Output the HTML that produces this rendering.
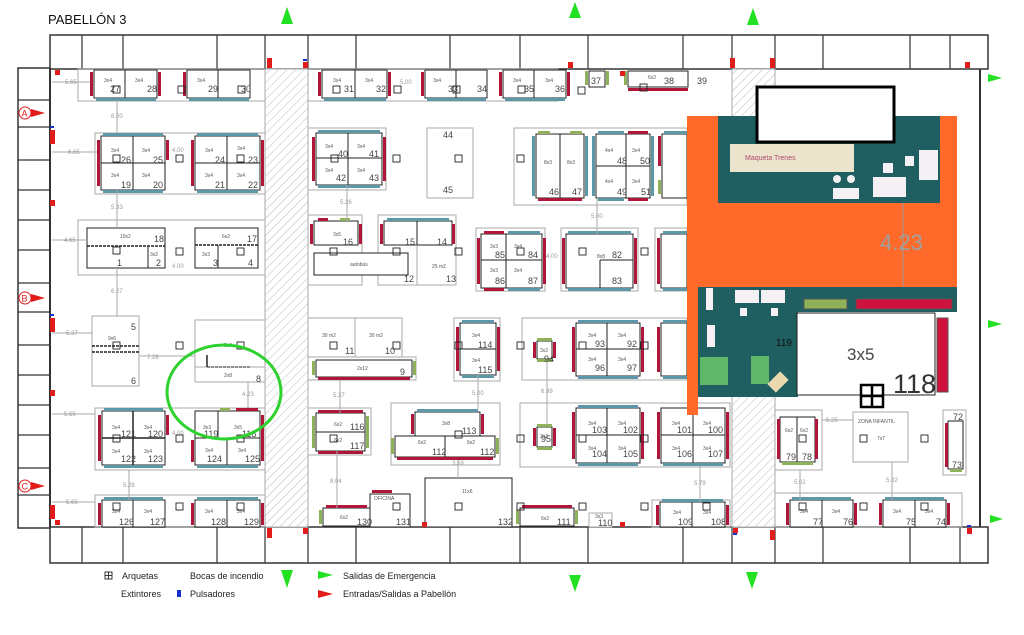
<!DOCTYPE html>
<html><head><meta charset="utf-8">
<style>
html,body{margin:0;padding:0;background:#fff;}
svg{display:block;font-family:"Liberation Sans",sans-serif;}
.st{fill:#fff;stroke:#222;stroke-width:1}
.gp{fill:none;stroke:#aaa;stroke-width:1}
.w{fill:none;stroke:#333;stroke-width:1.5}
.r{fill:#b0163a}
.b{fill:#5d97a8}
.g{fill:#8fb15a}
.t{font-size:5px;fill:#555}
.n{font-size:9px;fill:#444}
.d{font-size:6px;fill:#999}
.dl{stroke:#aaa;stroke-width:1}
</style></head><body>
<svg width="1024" height="635" viewBox="0 0 1024 635" xmlns="http://www.w3.org/2000/svg">
<defs>
<pattern id="h" width="6" height="6" patternUnits="userSpaceOnUse" patternTransform="rotate(45)">
<rect width="6" height="6" fill="#fff"/><line x1="0" y1="0" x2="0" y2="6" stroke="#bbb" stroke-width="1"/>
</pattern>
</defs>
<text x="48" y="24" font-size="13" fill="#111">PABELLÓN 3</text>

<!-- outer walls -->
<rect x="50" y="35" width="938" height="34" class="w"/>
<rect x="50" y="527" width="938" height="36" class="w"/>
<rect x="18" y="68" width="32" height="460" class="w"/>
<line x1="980" y1="69" x2="980" y2="527" stroke="#333" stroke-width="2"/>
<line x1="50" y1="69" x2="50" y2="527" stroke="#333" stroke-width="2"/>
<!-- room dividers top -->
<g stroke="#333" stroke-width="1.2">
<line x1="82" y1="35" x2="82" y2="69"/><line x1="123" y1="35" x2="123" y2="69"/><line x1="217" y1="35" x2="217" y2="69"/><line x1="265" y1="35" x2="265" y2="69"/><line x1="308" y1="35" x2="308" y2="69"/><line x1="356" y1="35" x2="356" y2="69"/><line x1="450" y1="35" x2="450" y2="69"/><line x1="520" y1="35" x2="520" y2="69"/><line x1="588" y1="35" x2="588" y2="69"/><line x1="683" y1="35" x2="683" y2="69"/><line x1="732" y1="35" x2="732" y2="69"/><line x1="775" y1="35" x2="775" y2="69"/><line x1="823" y1="35" x2="823" y2="69"/><line x1="910" y1="35" x2="910" y2="69"/><line x1="950" y1="35" x2="950" y2="69"/>
<line x1="82" y1="527" x2="82" y2="563"/><line x1="123" y1="527" x2="123" y2="563"/><line x1="217" y1="527" x2="217" y2="563"/><line x1="265" y1="527" x2="265" y2="563"/><line x1="308" y1="527" x2="308" y2="563"/><line x1="356" y1="527" x2="356" y2="563"/><line x1="450" y1="527" x2="450" y2="563"/><line x1="520" y1="527" x2="520" y2="563"/><line x1="588" y1="527" x2="588" y2="563"/><line x1="683" y1="527" x2="683" y2="563"/><line x1="732" y1="527" x2="732" y2="563"/><line x1="775" y1="527" x2="775" y2="563"/><line x1="823" y1="527" x2="823" y2="563"/><line x1="910" y1="527" x2="910" y2="563"/><line x1="960" y1="527" x2="960" y2="563"/>
<line x1="18" y1="100" x2="50" y2="100"/><line x1="18" y1="127" x2="50" y2="127"/><line x1="18" y1="160" x2="50" y2="160"/><line x1="18" y1="190" x2="50" y2="190"/><line x1="18" y1="220" x2="50" y2="220"/><line x1="18" y1="250" x2="50" y2="250"/><line x1="18" y1="283" x2="50" y2="283"/><line x1="18" y1="312" x2="50" y2="312"/><line x1="18" y1="345" x2="50" y2="345"/><line x1="18" y1="375" x2="50" y2="375"/><line x1="18" y1="405" x2="50" y2="405"/><line x1="18" y1="435" x2="50" y2="435"/><line x1="18" y1="468" x2="50" y2="468"/><line x1="18" y1="495" x2="50" y2="495"/>
</g>
<!-- hatched corridors -->
<rect x="265" y="69" width="43" height="458" fill="url(#h)" stroke="#aaa"/>
<rect x="732" y="69" width="43" height="458" fill="url(#h)" stroke="#aaa"/>

<!-- group outlines -->
<g class="gp">
<rect x="78" y="69" width="187" height="32"/><rect x="308" y="69" width="250" height="32"/>
<rect x="95" y="133" width="170" height="61"/><rect x="308" y="128" width="78" height="62"/><rect x="427" y="128" width="46" height="70"/><rect x="514" y="128" width="173" height="77"/>
<rect x="78" y="220" width="187" height="55"/><rect x="308" y="215" width="54" height="70"/><rect x="378" y="215" width="78" height="70"/><rect x="476" y="228" width="69" height="63"/><rect x="561" y="228" width="77" height="63"/><rect x="655" y="228" width="32" height="63"/>
<rect x="92" y="316" width="47" height="70"/><rect x="195" y="320" width="70" height="62"/><rect x="308" y="318" width="94" height="39"/><rect x="308" y="357" width="108" height="23"/><rect x="454" y="318" width="46" height="63"/><rect x="522" y="318" width="165" height="62"/>
<rect x="95" y="408" width="170" height="62"/><rect x="308" y="408" width="63" height="47"/><rect x="391" y="403" width="109" height="62"/><rect x="520" y="403" width="210" height="64"/><rect x="775" y="410" width="47" height="60"/><rect x="943" y="410" width="23" height="65"/>
<rect x="95" y="495" width="170" height="32"/><rect x="775" y="493" width="187" height="34"/><rect x="652" y="500" width="78" height="27"/>
</g>

<!-- stands -->
<g>
<!-- top row -->
<rect class="st" x="94" y="70" width="63" height="28"/><line x1="125" y1="70" x2="125" y2="98" stroke="#222"/><rect class="r" x="90" y="72" width="3" height="24"/><rect class="r" x="158" y="72" width="3" height="24"/><rect class="b" x="96" y="98" width="60" height="3"/>
<rect class="st" x="187" y="70" width="63" height="28"/><line x1="218" y1="70" x2="218" y2="98" stroke="#222"/><rect class="r" x="183" y="72" width="3" height="24"/><rect class="b" x="189" y="98" width="60" height="3"/>
<rect class="st" x="322" y="70" width="65" height="28"/><line x1="355" y1="70" x2="355" y2="98" stroke="#222"/><rect class="r" x="318" y="72" width="3" height="24"/><rect class="r" x="388" y="72" width="3" height="24"/><rect class="b" x="324" y="98" width="62" height="3"/>
<rect class="st" x="425" y="70" width="62" height="28"/><line x1="456" y1="70" x2="456" y2="98" stroke="#222"/><rect class="r" x="421" y="72" width="3" height="24"/><rect class="b" x="427" y="98" width="59" height="3"/>
<rect class="st" x="503" y="70" width="63" height="28"/><line x1="534" y1="70" x2="534" y2="98" stroke="#222"/><rect class="r" x="499" y="72" width="3" height="24"/><rect class="r" x="567" y="72" width="3" height="24"/><rect class="b" x="505" y="98" width="60" height="3"/>
<rect class="st" x="589" y="71" width="16" height="16"/><rect class="g" x="585" y="71" width="3" height="14"/><rect class="g" x="606" y="71" width="3" height="14"/>
<rect class="st" x="628" y="71" width="60" height="16"/><rect class="r" x="628" y="88" width="60" height="3"/><rect class="g" x="624" y="71" width="3" height="14"/>
<!-- row 2 -->
<rect class="st" x="101" y="136" width="64" height="54"/><line x1="133" y1="136" x2="133" y2="190" stroke="#222"/><line x1="101" y1="163" x2="165" y2="163" stroke="#222"/><rect class="r" x="97" y="140" width="3" height="46"/><rect class="r" x="166" y="140" width="3" height="20"/><rect class="b" x="103" y="133" width="60" height="3"/><rect class="b" x="103" y="190" width="60" height="3"/>
<rect class="st" x="195" y="136" width="65" height="54"/><line x1="227" y1="136" x2="227" y2="190" stroke="#222"/><line x1="195" y1="163" x2="260" y2="163" stroke="#222"/><rect class="r" x="191" y="140" width="3" height="46"/><rect class="r" x="261" y="140" width="3" height="46"/><rect class="b" x="197" y="133" width="61" height="3"/><rect class="b" x="197" y="190" width="61" height="3"/>
<rect class="st" x="316" y="133" width="66" height="52"/><line x1="348" y1="133" x2="348" y2="185" stroke="#222"/><line x1="316" y1="158" x2="382" y2="158" stroke="#222"/><rect class="r" x="312" y="137" width="3" height="44"/><rect class="r" x="383" y="137" width="3" height="44"/><rect class="b" x="318" y="130" width="62" height="3"/><rect class="b" x="318" y="185" width="62" height="3"/>
<rect class="st" x="536" y="134" width="48" height="64"/><line x1="560" y1="134" x2="560" y2="198" stroke="#222"/><rect class="b" x="532" y="136" width="3" height="60"/><rect class="b" x="585" y="136" width="3" height="60"/><rect class="r" x="538" y="198" width="44" height="3"/><rect class="g" x="538" y="131" width="12" height="3"/><rect class="g" x="570" y="131" width="12" height="3"/>
<rect class="st" x="596" y="134" width="54" height="64"/><line x1="626" y1="134" x2="626" y2="198" stroke="#222"/><line x1="596" y1="166" x2="650" y2="166" stroke="#222"/><rect class="b" x="592" y="136" width="3" height="60"/><rect class="b" x="651" y="136" width="3" height="60"/><rect class="b" x="598" y="131" width="26" height="3"/><rect class="r" x="628" y="131" width="20" height="3"/><rect class="b" x="598" y="198" width="26" height="3"/><rect class="r" x="628" y="198" width="20" height="3"/>
<rect class="st" x="662" y="134" width="25" height="64"/><rect class="r" x="658" y="136" width="3" height="30"/><rect class="g" x="658" y="180" width="3" height="14"/><rect class="b" x="664" y="131" width="23" height="3"/>
<!-- row 3 -->
<rect class="st" x="87" y="228" width="78" height="40"/><line x1="87" y1="246" x2="165" y2="246" stroke="#222" stroke-dasharray="3,1" stroke-width="1.5"/><line x1="148" y1="246" x2="148" y2="268" stroke="#222"/>
<rect class="st" x="195" y="228" width="63" height="40"/><line x1="195" y1="245" x2="258" y2="245" stroke="#222" stroke-dasharray="3,1" stroke-width="1.5"/><line x1="218" y1="245" x2="218" y2="268" stroke="#222"/>
<rect class="st" x="314" y="221" width="44" height="24"/><rect class="r" x="318" y="218" width="10" height="3"/><rect class="g" x="340" y="218" width="10" height="3"/><rect class="r" x="310" y="224" width="3" height="20"/><rect class="r" x="359" y="224" width="3" height="20"/>
<rect class="st" x="384" y="221" width="68" height="24"/><line x1="417" y1="221" x2="417" y2="245" stroke="#222"/><rect class="b" x="387" y="218" width="62" height="3"/><rect class="r" x="380" y="224" width="3" height="20"/><rect class="r" x="452" y="224" width="3" height="20"/>
<rect class="st" x="314" y="253" width="94" height="22"/><line x1="417" y1="245" x2="417" y2="285" stroke="#aaa"/>
<rect class="st" x="481" y="234" width="61" height="54"/><line x1="506" y1="234" x2="506" y2="288" stroke="#222"/><line x1="481" y1="260" x2="542" y2="260" stroke="#222"/><rect class="r" x="477" y="238" width="3" height="46"/><rect class="r" x="543" y="238" width="3" height="46"/><rect class="r" x="484" y="231" width="20" height="3"/><rect class="b" x="508" y="231" width="32" height="3"/><rect class="r" x="484" y="288" width="20" height="3"/><rect class="b" x="508" y="288" width="32" height="3"/>
<rect class="st" x="566" y="234" width="67" height="54"/><line x1="600" y1="260" x2="600" y2="288" stroke="#222"/><line x1="600" y1="260" x2="633" y2="260" stroke="#222"/><rect class="r" x="562" y="238" width="3" height="46"/><rect class="r" x="634" y="238" width="3" height="46"/><rect class="b" x="568" y="231" width="63" height="3"/><rect class="b" x="568" y="288" width="63" height="3"/>
<rect class="st" x="661" y="234" width="26" height="54"/><rect class="r" x="657" y="238" width="3" height="46"/><rect class="b" x="663" y="231" width="24" height="3"/><rect class="b" x="663" y="288" width="24" height="3"/>
<!-- row 4 -->
<line x1="92" y1="346" x2="139" y2="346" stroke="#222" stroke-dasharray="3,1" stroke-width="1.5"/><line x1="92" y1="352" x2="139" y2="352" stroke="#222" stroke-dasharray="3,1" stroke-width="1.5"/>
<line x1="195" y1="367" x2="265" y2="367" stroke="#aaa"/><line x1="207" y1="355" x2="207" y2="367" stroke="#222" stroke-width="1.5"/><line x1="207" y1="367" x2="250" y2="367" stroke="#222" stroke-dasharray="3,1"/>
<line x1="355" y1="318" x2="355" y2="357" stroke="#aaa"/>
<rect class="st" x="316" y="360" width="96" height="17"/><rect class="g" x="312" y="361" width="3" height="14"/><rect class="g" x="413" y="361" width="3" height="14"/><rect class="r" x="318" y="377" width="92" height="3"/>
<rect class="st" x="460" y="323" width="36" height="52"/><line x1="460" y1="349" x2="496" y2="349" stroke="#222"/><rect class="r" x="456" y="327" width="3" height="44"/><rect class="r" x="497" y="327" width="3" height="44"/><rect class="b" x="462" y="320" width="32" height="3"/><rect class="b" x="462" y="375" width="32" height="3"/>
<rect class="st" x="537" y="341" width="15" height="18"/><rect class="g" x="537" y="338" width="15" height="3"/><rect class="g" x="537" y="359" width="15" height="3"/><rect class="r" x="533" y="342" width="3" height="16"/><rect class="r" x="553" y="342" width="3" height="16"/>
<rect class="st" x="576" y="323" width="64" height="53"/><line x1="607" y1="323" x2="607" y2="376" stroke="#222"/><line x1="576" y1="349" x2="640" y2="349" stroke="#222"/><rect class="r" x="572" y="327" width="3" height="45"/><rect class="r" x="641" y="327" width="3" height="45"/><rect class="b" x="578" y="320" width="60" height="3"/><rect class="b" x="578" y="376" width="60" height="3"/>
<rect class="st" x="661" y="323" width="26" height="53"/><rect class="r" x="657" y="327" width="3" height="45"/><rect class="b" x="663" y="320" width="24" height="3"/><rect class="b" x="663" y="376" width="24" height="3"/>
<!-- row 5 -->
<rect class="st" x="102" y="411" width="63" height="54"/><line x1="133" y1="411" x2="133" y2="465" stroke="#222" stroke-width="1.5"/><line x1="102" y1="438" x2="165" y2="438" stroke="#222" stroke-width="1.5"/><rect class="r" x="98" y="415" width="3" height="46"/><rect class="r" x="166" y="415" width="3" height="20"/><rect class="b" x="104" y="408" width="59" height="3"/><rect class="b" x="104" y="465" width="59" height="3"/>
<rect class="st" x="195" y="411" width="65" height="54"/><line x1="227" y1="438" x2="227" y2="465" stroke="#222"/><line x1="218" y1="411" x2="218" y2="438" stroke="#222"/><line x1="195" y1="438" x2="260" y2="438" stroke="#222"/><rect class="r" x="191" y="440" width="3" height="22"/><rect class="r" x="261" y="415" width="3" height="46"/><rect class="g" x="220" y="408" width="10" height="3"/><rect class="r" x="236" y="408" width="22" height="3"/><rect class="b" x="197" y="465" width="61" height="3"/>
<rect class="st" x="316" y="413" width="49" height="38"/><line x1="316" y1="432" x2="365" y2="432" stroke="#222"/><rect class="r" x="318" y="410" width="45" height="3"/><rect class="r" x="318" y="451" width="45" height="3"/><rect class="g" x="312" y="416" width="3" height="32"/><rect class="g" x="366" y="416" width="3" height="32"/>
<rect class="st" x="415" y="412" width="65" height="24"/><rect class="b" x="417" y="409" width="61" height="3"/><rect class="r" x="411" y="414" width="3" height="20"/><rect class="r" x="481" y="414" width="3" height="20"/>
<rect class="st" x="395" y="436" width="100" height="21"/><line x1="445" y1="436" x2="445" y2="457" stroke="#222"/><rect class="r" x="397" y="457" width="96" height="3"/><rect class="g" x="391" y="438" width="3" height="16"/><rect class="g" x="496" y="438" width="3" height="16"/>
<rect class="st" x="537" y="427" width="15" height="20"/><rect class="g" x="537" y="424" width="15" height="3"/><rect class="g" x="537" y="447" width="15" height="3"/><rect class="r" x="533" y="428" width="3" height="18"/><rect class="r" x="553" y="428" width="3" height="18"/>
<rect class="st" x="576" y="408" width="64" height="55"/><line x1="607" y1="408" x2="607" y2="463" stroke="#222"/><line x1="576" y1="435" x2="640" y2="435" stroke="#222"/><rect class="r" x="572" y="412" width="3" height="47"/><rect class="r" x="641" y="412" width="3" height="47"/><rect class="b" x="578" y="405" width="60" height="3"/><rect class="b" x="578" y="463" width="60" height="3"/>
<rect class="st" x="661" y="408" width="64" height="55"/><line x1="693" y1="408" x2="693" y2="463" stroke="#222"/><line x1="661" y1="435" x2="725" y2="435" stroke="#222"/><rect class="r" x="657" y="412" width="3" height="47"/><rect class="r" x="726" y="412" width="3" height="47"/><rect class="b" x="663" y="463" width="60" height="3"/>
<rect class="st" x="780" y="417" width="35" height="45"/><line x1="797" y1="417" x2="797" y2="462" stroke="#222"/><rect class="r" x="777" y="419" width="3" height="40"/><rect class="r" x="815" y="419" width="3" height="40"/><rect class="g" x="782" y="462" width="31" height="3"/>
<rect x="853" y="412" width="55" height="50" fill="#fff" stroke="#aaa"/>
<rect class="st" x="948" y="421" width="15" height="48"/><rect class="r" x="945" y="423" width="3" height="44"/><rect class="g" x="950" y="469" width="12" height="3"/>
<!-- row 6 -->
<rect class="st" x="102" y="500" width="63" height="27"/><line x1="133" y1="500" x2="133" y2="527" stroke="#222"/><rect class="r" x="98" y="503" width="3" height="22"/><rect class="b" x="104" y="497" width="59" height="3"/>
<rect class="st" x="195" y="500" width="65" height="27"/><line x1="227" y1="500" x2="227" y2="527" stroke="#222"/><rect class="r" x="191" y="503" width="3" height="22"/><rect class="r" x="261" y="503" width="3" height="22"/><rect class="b" x="197" y="497" width="61" height="3"/>
<rect class="st" x="323" y="508" width="47" height="18"/><rect class="r" x="326" y="505" width="41" height="3"/><rect class="g" x="319" y="510" width="3" height="14"/>
<rect class="st" x="370" y="494" width="40" height="33"/><rect class="r" x="372" y="490" width="20" height="3"/>
<rect class="st" x="425" y="478" width="87" height="49"/>
<rect class="st" x="520" y="508" width="54" height="18"/><rect class="r" x="522" y="505" width="50" height="3"/><rect class="g" x="516" y="510" width="3" height="14"/><rect class="g" x="575" y="510" width="3" height="14"/>
<rect x="589" y="513" width="23" height="14" fill="#fff" stroke="#aaa"/>
<rect class="st" x="660" y="502" width="65" height="25"/><line x1="692" y1="502" x2="692" y2="527" stroke="#222"/><rect class="r" x="656" y="505" width="3" height="20"/><rect class="r" x="726" y="505" width="3" height="20"/><rect class="b" x="662" y="499" width="61" height="3"/>
<rect class="st" x="790" y="500" width="63" height="27"/><line x1="822" y1="500" x2="822" y2="527" stroke="#222"/><rect class="r" x="786" y="503" width="3" height="22"/><rect class="r" x="854" y="503" width="3" height="22"/><rect class="b" x="792" y="497" width="59" height="3"/>
<rect class="st" x="883" y="500" width="63" height="27"/><line x1="915" y1="500" x2="915" y2="527" stroke="#222"/><rect class="r" x="879" y="503" width="3" height="22"/><rect class="r" x="947" y="503" width="3" height="22"/><rect class="b" x="885" y="497" width="59" height="3"/>
</g>

<!-- dimension lines -->
<g class="dl">
<line x1="117" y1="100" x2="117" y2="133"/><line x1="117" y1="190" x2="117" y2="228"/><line x1="117" y1="268" x2="117" y2="316"/><line x1="347" y1="185" x2="347" y2="221"/><line x1="340" y1="380" x2="340" y2="413"/><line x1="337" y1="451" x2="337" y2="508"/><line x1="478" y1="375" x2="478" y2="409"/><line x1="458" y1="460" x2="458" y2="478"/><line x1="597" y1="198" x2="597" y2="234"/><line x1="547" y1="362" x2="547" y2="425"/><line x1="248" y1="382" x2="248" y2="408"/><line x1="129" y1="470" x2="129" y2="500"/><line x1="700" y1="466" x2="700" y2="502"/><line x1="800" y1="470" x2="800" y2="500"/><line x1="892" y1="462" x2="892" y2="500"/>
<line x1="140" y1="356" x2="195" y2="356"/><line x1="52" y1="82" x2="90" y2="82"/><line x1="52" y1="152" x2="97" y2="152"/><line x1="52" y1="240" x2="87" y2="240"/><line x1="52" y1="333" x2="92" y2="333"/><line x1="52" y1="414" x2="95" y2="414"/><line x1="52" y1="502" x2="95" y2="502"/><line x1="822" y1="420" x2="853" y2="420"/>
</g>
<g class="d">
<text x="111" y="118">6.00</text><text x="111" y="209">5.33</text><text x="111" y="293">6.27</text><text x="340" y="204">5.26</text><text x="333" y="397">5.27</text><text x="330" y="483">8.04</text><text x="472" y="395">5.00</text><text x="452" y="465">3.59</text><text x="591" y="218">5.00</text><text x="541" y="393">6.99</text><text x="242" y="396">4.23</text><text x="123" y="487">5.28</text><text x="694" y="485">5.79</text><text x="794" y="484">5.02</text><text x="886" y="482">5.02</text>
<text x="147" y="359">7.28</text><text x="65" y="84">5.65</text><text x="68" y="154">6.65</text><text x="64" y="242">4.65</text><text x="66" y="335">5.37</text><text x="64" y="416">5.65</text><text x="66" y="504">5.65</text><text x="826" y="422">5.25</text>
<text x="172" y="152">4.00</text><text x="172" y="268">4.00</text><text x="400" y="84">5.00</text><text x="546" y="258">4.00</text><text x="172" y="435">4.00</text>
</g>

<!-- small labels -->
<g class="t">
<text x="104" y="82">3x4</text><text x="135" y="82">3x4</text><text x="197" y="82">3x4</text><text x="333" y="82">3x4</text><text x="365" y="82">3x4</text><text x="433" y="82">3x4</text><text x="513" y="82">3x4</text><text x="545" y="82">3x4</text><text x="648" y="79">6x2</text>
<text x="111" y="152">3x4</text><text x="142" y="152">3x4</text><text x="111" y="177">3x4</text><text x="142" y="177">3x4</text><text x="205" y="152">3x4</text><text x="237" y="150">3x4</text><text x="205" y="177">3x4</text><text x="237" y="177">3x4</text>
<text x="325" y="148">3x4</text><text x="357" y="148">3x4</text><text x="325" y="172">3x4</text><text x="357" y="172">3x4</text><text x="544" y="164">8x3</text><text x="567" y="164">8x3</text><text x="605" y="152">4x4</text><text x="632" y="152">3x4</text><text x="605" y="183">4x4</text><text x="632" y="183">3x4</text>
<text x="120" y="238">10x2</text><text x="222" y="238">6x2</text><text x="150" y="256">3x2</text><text x="202" y="256">3x3</text><text x="333" y="236">3x5</text><text x="350" y="266">autobús</text><text x="432" y="268">25 m2</text>
<text x="490" y="248">3x3</text><text x="514" y="248">3x4</text><text x="514" y="272">3x4</text><text x="490" y="272">3x3</text><text x="597" y="258">8x8</text>
<text x="108" y="340">9x6</text><text x="224" y="347">5x6</text><text x="224" y="377">2x8</text><text x="322" y="337">30 m2</text><text x="369" y="337">30 m2</text><text x="357" y="370">2x12</text>
<text x="472" y="337">3x4</text><text x="472" y="362">3x4</text><text x="540" y="352">3x2</text><text x="588" y="337">3x4</text><text x="618" y="337">3x4</text><text x="588" y="361">3x4</text><text x="618" y="361">3x4</text>
<text x="112" y="429">3x4</text><text x="144" y="429">3x4</text><text x="112" y="453">3x4</text><text x="144" y="453">3x4</text><text x="203" y="429">3x3</text><text x="234" y="429">3x5</text><text x="205" y="452">3x4</text><text x="238" y="452">3x4</text>
<text x="334" y="426">6x2</text><text x="334" y="442">6x2</text><text x="442" y="425">3x8</text><text x="418" y="444">6x2</text><text x="467" y="444">6x2</text><text x="540" y="438">3x2</text>
<text x="588" y="425">3x4</text><text x="618" y="425">3x4</text><text x="588" y="450">3x4</text><text x="618" y="450">3x4</text><text x="672" y="425">3x4</text><text x="703" y="425">3x4</text><text x="672" y="450">3x4</text><text x="703" y="450">3x4</text>
<text x="785" y="432">6x2</text><text x="800" y="432">6x2</text><text x="858" y="423">ZONA INFANTIL</text><text x="877" y="440">7x7</text>
<text x="112" y="513">3x4</text><text x="144" y="513">3x4</text><text x="205" y="513">3x4</text><text x="237" y="513">3x4</text><text x="340" y="519">6x2</text><text x="374" y="500">OFICINA</text><text x="462" y="493">11x6</text><text x="541" y="520">6x2</text><text x="595" y="518">3x3</text><text x="673" y="514">3x4</text><text x="703" y="514">3x4</text>
<text x="800" y="513">3x4</text><text x="832" y="513">3x4</text><text x="893" y="513">3x4</text><text x="925" y="513">3x4</text>
</g>
<g class="n">
<text x="147" y="92">28</text><text x="208" y="92">29</text><text x="241" y="92">30</text><text x="110" y="92">27</text><text x="344" y="92">31</text><text x="376" y="92">32</text><text x="448" y="92">33</text><text x="477" y="92">34</text><text x="524" y="92">35</text><text x="555" y="92">36</text><text x="591" y="84">37</text><text x="664" y="84">38</text><text x="697" y="84">39</text>
<text x="121" y="163">26</text><text x="153" y="163">25</text><text x="121" y="188">19</text><text x="153" y="188">20</text><text x="215" y="163">24</text><text x="248" y="163">23</text><text x="215" y="188">21</text><text x="248" y="188">22</text>
<text x="338" y="157">40</text><text x="369" y="157">41</text><text x="336" y="181">42</text><text x="369" y="181">43</text><text x="443" y="138">44</text><text x="443" y="193">45</text><text x="549" y="195">46</text><text x="572" y="195">47</text><text x="617" y="164">48</text><text x="617" y="195">49</text><text x="641" y="195">51</text><text x="640" y="164">50</text>
<text x="154" y="242">18</text><text x="247" y="242">17</text><text x="117" y="266">1</text><text x="156" y="266">2</text><text x="213" y="266">3</text><text x="248" y="266">4</text><text x="343" y="245">16</text><text x="405" y="245">15</text><text x="437" y="245">14</text><text x="404" y="282">12</text><text x="446" y="282">13</text>
<text x="495" y="258">85</text><text x="528" y="258">84</text><text x="495" y="284">86</text><text x="528" y="284">87</text><text x="612" y="258">82</text><text x="612" y="284">83</text>
<text x="131" y="330">5</text><text x="131" y="384">6</text><text x="256" y="382">8</text><text x="345" y="354">11</text><text x="385" y="354">10</text><text x="400" y="375">9</text>
<text x="478" y="348">114</text><text x="478" y="373">115</text><text x="544" y="362">94</text><text x="595" y="347">93</text><text x="627" y="347">92</text><text x="595" y="371">96</text><text x="627" y="371">97</text>
<text x="148" y="437">120</text><text x="121" y="437">121</text><text x="121" y="462">122</text><text x="148" y="462">123</text><text x="204" y="437">119</text><text x="207" y="462">124</text><text x="245" y="462">125</text><text x="242" y="437">118</text>
<text x="350" y="430">116</text><text x="350" y="449">117</text><text x="462" y="434">113</text><text x="432" y="455">112</text><text x="480" y="455">112</text><text x="541" y="442">95</text>
<text x="592" y="433">103</text><text x="623" y="433">102</text><text x="592" y="457">104</text><text x="623" y="457">105</text><text x="677" y="433">101</text><text x="708" y="433">100</text><text x="677" y="457">106</text><text x="708" y="457">107</text>
<text x="786" y="460">79</text><text x="802" y="460">78</text><text x="953" y="420">72</text><text x="952" y="468">73</text>
<text x="119" y="525">126</text><text x="150" y="525">127</text><text x="211" y="525">128</text><text x="244" y="525">129</text><text x="357" y="525">130</text><text x="396" y="525">131</text><text x="498" y="525">132</text><text x="557" y="525">111</text><text x="598" y="526">110</text><text x="678" y="525">109</text><text x="711" y="525">108</text>
<text x="813" y="525">77</text><text x="843" y="525">76</text><text x="906" y="525">75</text><text x="936" y="525">74</text>
</g>
<!-- arquetas -->
<g fill="none" stroke="#222" stroke-width="0.9">
<rect x="113" y="86" width="7" height="7"/><rect x="178" y="86" width="7" height="7"/><rect x="238" y="86" width="7" height="7"/><rect x="333" y="86" width="7" height="7"/><rect x="394" y="86" width="7" height="7"/><rect x="453" y="86" width="7" height="7"/><rect x="518" y="86" width="7" height="7"/><rect x="578" y="87" width="7" height="7"/><rect x="640" y="84" width="7" height="7"/>
<rect x="113" y="155" width="7" height="7"/><rect x="176" y="155" width="7" height="7"/><rect x="237" y="155" width="7" height="7"/><rect x="331" y="155" width="7" height="7"/><rect x="393" y="155" width="7" height="7"/><rect x="455" y="155" width="7" height="7"/><rect x="517" y="155" width="7" height="7"/>
<rect x="113" y="247" width="7" height="7"/><rect x="176" y="248" width="7" height="7"/><rect x="237" y="248" width="7" height="7"/><rect x="330" y="248" width="7" height="7"/><rect x="393" y="248" width="7" height="7"/><rect x="455" y="248" width="7" height="7"/><rect x="517" y="248" width="7" height="7"/><rect x="579" y="248" width="7" height="7"/><rect x="641" y="248" width="7" height="7"/>
<rect x="113" y="342" width="7" height="7"/><rect x="176" y="342" width="7" height="7"/><rect x="237" y="342" width="7" height="7"/><rect x="330" y="342" width="7" height="7"/><rect x="393" y="342" width="7" height="7"/><rect x="455" y="342" width="7" height="7"/><rect x="517" y="342" width="7" height="7"/><rect x="579" y="342" width="7" height="7"/><rect x="641" y="342" width="7" height="7"/>
<rect x="113" y="435" width="7" height="7"/><rect x="176" y="435" width="7" height="7"/><rect x="237" y="435" width="7" height="7"/><rect x="330" y="435" width="7" height="7"/><rect x="455" y="431" width="7" height="7"/><rect x="517" y="435" width="7" height="7"/><rect x="579" y="435" width="7" height="7"/><rect x="641" y="435" width="7" height="7"/><rect x="799" y="435" width="7" height="7"/><rect x="860" y="435" width="7" height="7"/><rect x="921" y="435" width="7" height="7"/>
<rect x="113" y="503" width="7" height="7"/><rect x="176" y="503" width="7" height="7"/><rect x="237" y="503" width="7" height="7"/><rect x="393" y="503" width="7" height="7"/><rect x="455" y="503" width="7" height="7"/><rect x="517" y="503" width="7" height="7"/><rect x="579" y="503" width="7" height="7"/><rect x="641" y="503" width="7" height="7"/><rect x="703" y="503" width="7" height="7"/><rect x="799" y="503" width="7" height="7"/><rect x="860" y="503" width="7" height="7"/><rect x="921" y="503" width="7" height="7"/>
</g>
<!-- extinguishers / pulsadores markers -->
<g fill="#e21b1b">
<rect x="55" y="70" width="5" height="5"/><rect x="50" y="130" width="5" height="14"/><rect x="50" y="200" width="5" height="6"/><rect x="50" y="318" width="5" height="14"/><rect x="50" y="390" width="5" height="6"/><rect x="50" y="505" width="5" height="14"/><rect x="55" y="520" width="5" height="5"/>
<rect x="267" y="58" width="5" height="10"/><rect x="303" y="62" width="5" height="6"/><rect x="568" y="62" width="5" height="6"/><rect x="620" y="71" width="5" height="5"/><rect x="730" y="58" width="5" height="10"/><rect x="770" y="58" width="5" height="10"/><rect x="965" y="62" width="5" height="6"/>
<rect x="267" y="528" width="5" height="10"/><rect x="303" y="528" width="5" height="6"/><rect x="422" y="522" width="5" height="5"/><rect x="620" y="522" width="5" height="5"/><rect x="733" y="528" width="5" height="5"/><rect x="770" y="530" width="5" height="10"/><rect x="967" y="528" width="5" height="6"/>
</g>
<g fill="#1a2fd0"><rect x="50" y="126" width="4" height="2"/><rect x="50" y="314" width="4" height="2"/><rect x="303" y="59" width="4" height="2"/><rect x="967" y="525" width="4" height="2"/><rect x="733" y="533" width="4" height="2"/></g>

<!-- entrances A B C -->
<g>
<circle cx="25" cy="113" r="6" fill="#fff" stroke="#e21b1b"/><text x="21.5" y="116.5" font-size="9" fill="#e21b1b">A</text><polygon points="31,109 45,113 31,117" fill="#e21b1b"/>
<circle cx="25" cy="298" r="6" fill="#fff" stroke="#e21b1b"/><text x="21.5" y="301.5" font-size="9" fill="#e21b1b">B</text><polygon points="31,294 45,298 31,302" fill="#e21b1b"/>
<circle cx="25" cy="486" r="6" fill="#fff" stroke="#e21b1b"/><text x="21.5" y="489.5" font-size="9" fill="#e21b1b">C</text><polygon points="31,482 45,486 31,490" fill="#e21b1b"/>
</g>
<!-- emergency exits -->
<g fill="#22e022">
<polygon points="281,24 287,7 293,24"/><polygon points="569,18 575,2 581,18"/><polygon points="747,25 753,8 759,25"/>
<polygon points="281,570 287,588 293,570"/><polygon points="569,575 575,592 581,575"/><polygon points="746,572 752,589 758,572"/>
<polygon points="988,74 1002,78 988,82"/><polygon points="988,320 1002,324 988,328"/><polygon points="990,515 1003,519 990,523"/>
</g>

<!-- green circle -->
<ellipse cx="224" cy="392" rx="57" ry="47" fill="none" stroke="#2fd12f" stroke-width="3"/>

<!-- photo inset -->
<rect x="687" y="116" width="270" height="171" fill="#ff6a2a"/>
<rect x="687" y="287" width="11" height="128" fill="#ff6a2a"/>
<rect x="718" y="116" width="222" height="87" fill="#1f5e61"/>
<rect x="757" y="87" width="137" height="55" fill="#fff" stroke="#000" stroke-width="3"/>
<rect x="730" y="144" width="124" height="28" fill="#ebe3cc"/>
<text x="745" y="160" font-size="7" fill="#b04a6a">Maqueta  Trenes</text>
<rect x="833" y="188" width="26" height="11" fill="#f4f0f4"/><rect x="873" y="177" width="33" height="20" fill="#f4f0f4"/><rect x="919" y="150" width="19" height="30" fill="#f4f0f4"/><rect x="883" y="163" width="10" height="10" fill="#f4f0f4"/><rect x="905" y="156" width="9" height="10" fill="#f4f0f4"/>
<circle cx="837" cy="179" r="4" fill="#f4f0f4"/><circle cx="851" cy="179" r="4" fill="#f4f0f4"/>
<line x1="903" y1="203" x2="903" y2="300" stroke="#999" stroke-width="1"/>
<text x="880" y="250" font-size="22" fill="#a0a0a0">4.23</text>
<rect x="698" y="287" width="259" height="25" fill="#1f5e61"/>
<rect x="698" y="287" width="100" height="110" fill="#1f5e61"/>
<rect x="804" y="299" width="43" height="10" fill="#8fb15a" stroke="#555"/><rect x="856" y="299" width="96" height="10" fill="#d0113c" stroke="#555"/>
<rect x="797" y="313" width="138" height="82" fill="#fff" stroke="#222"/>
<rect x="937" y="318" width="11" height="74" fill="#d0113c" stroke="#555"/>
<rect x="735" y="290" width="24" height="13" fill="#f4f0f4"/><rect x="761" y="290" width="24" height="13" fill="#f4f0f4"/><rect x="706" y="288" width="7" height="22" fill="#f4f0f4"/><rect x="707" y="325" width="8" height="22" fill="#f4f0f4"/><rect x="740" y="308" width="7" height="8" fill="#f4f0f4"/><rect x="771" y="308" width="7" height="8" fill="#f4f0f4"/>
<rect x="700" y="357" width="28" height="28" fill="#5fb86a"/><rect x="751" y="356" width="18" height="28" fill="#5fb86a"/><rect x="772" y="373" width="12" height="18" fill="#e8d9b0" transform="rotate(45 778 382)"/>
<text x="776" y="346" font-size="10" fill="#111">119</text>
<text x="847" y="360" font-size="17" fill="#444">3x5</text>
<text x="893" y="393" font-size="27" fill="#333">118</text>
<g fill="none" stroke="#000" stroke-width="2.5"><rect x="861" y="385" width="22" height="22"/><line x1="872" y1="385" x2="872" y2="407"/><line x1="861" y1="396" x2="883" y2="396"/></g>

<!-- legend -->
<g font-size="9" fill="#222">
<g fill="none" stroke="#222" stroke-width="0.9"><rect x="105" y="572" width="7" height="7"/><line x1="108.5" y1="572" x2="108.5" y2="579"/><line x1="105" y1="575.5" x2="112" y2="575.5"/></g>
<text x="122" y="579">Arquetas</text><text x="190" y="579">Bocas de incendio</text><polygon points="318,571 333,575 318,579" fill="#22e022"/><text x="343" y="579">Salidas de Emergencia</text>
<text x="121" y="597">Extintores</text><rect x="177" y="590" width="4" height="7" fill="#1a2fd0"/><text x="190" y="597">Pulsadores</text><polygon points="318,590 333,594 318,598" fill="#e21b1b"/><text x="343" y="597">Entradas/Salidas a Pabellón</text>
</g>
</svg>
</body></html>
